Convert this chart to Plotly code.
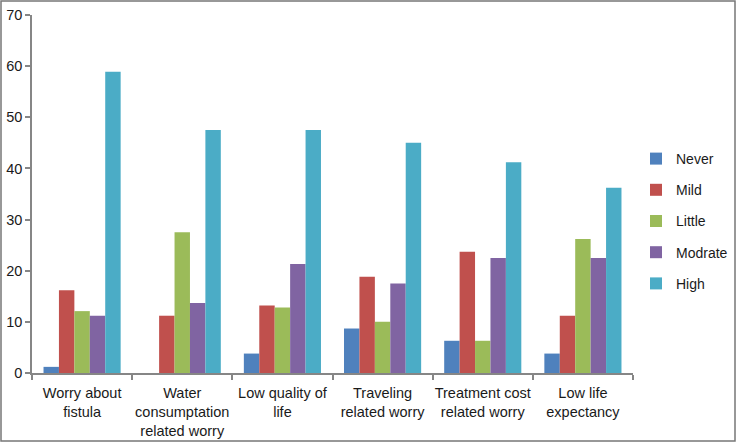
import plotly.graph_objects as go

categories = ["Worry about<br>fistula", "Water<br>consumptation<br>related worry",
              "Low quality of<br>life", "Traveling<br>related worry",
              "Treatment cost<br>related worry", "Low life<br>expectancy"]
never = [1.2, 0, 3.8, 8.7, 6.3, 3.8]
mild = [16.2, 11.2, 13.2, 18.8, 23.7, 11.2]
little = [12.1, 27.5, 12.8, 10.0, 6.3, 26.2]
modrate = [11.2, 13.7, 21.3, 17.5, 22.5, 22.5]
high = [58.9, 47.5, 47.5, 45.0, 41.2, 36.2]

series = [("Never", never, "#4F81BD"), ("Mild", mild, "#C0504D"),
          ("Little", little, "#9BBB59"), ("Modrate", modrate, "#8064A2"),
          ("High", high, "#4BACC6")]

fig = go.Figure()
for i, (name, vals, col) in enumerate(series):
    fig.add_trace(go.Bar(x=categories, y=vals, name=name, marker_color=col,
                         marker_line_width=0, legendgroup=str(i)))

W, H = 736, 443
ml, mr, mt, mb = 32, 103, 15, 70
pw, ph = W - ml - mr, H - mt - mb

fig.update_layout(
    width=W, height=H,
    margin=dict(l=ml, r=mr, t=mt, b=mb, autoexpand=False),
    paper_bgcolor="white", plot_bgcolor="white",
    barmode="group", bargap=0.23, bargroupgap=0,
    font=dict(family="Liberation Sans, Arial, sans-serif", size=14, color="#1a1a1a"),
    showlegend=True,
    legend=dict(xref="container", yref="container", x=636 / W, y=1 - 221 / H,
                xanchor="left", yanchor="middle",
                tracegroupgap=10, font=dict(size=14), itemwidth=30),
    xaxis=dict(showline=True, linecolor="#868686", linewidth=1.5, automargin=False,
               ticks="outside", tickson="boundaries", ticklen=5, tickcolor="#868686",
               tickwidth=1.5, showgrid=False, tickangle=0, ticklabelstandoff=6,
               tickfont=dict(size=14.5)),
    yaxis=dict(range=[0, 70], dtick=10, showline=True, linecolor="#868686", linewidth=1.5,
               automargin=False,
               ticks="outside", ticklen=5, tickcolor="#868686", tickwidth=1.5,
               showgrid=False, zeroline=False, tickfont=dict(size=14.5)),
    shapes=[dict(type="rect", xref="paper", yref="paper",
                 x0=(-ml + 1) / pw, x1=1 + (mr - 1) / pw,
                 y0=-(mb - 2) / ph, y1=1 + (mt - 1) / ph,
                 line=dict(color="#777", width=1.5), layer="above")],
)

fig.write_html("out.html", config={"displayModeBar": False},
               post_script="document.body.style.margin='0';document.body.style.overflow='hidden';")
